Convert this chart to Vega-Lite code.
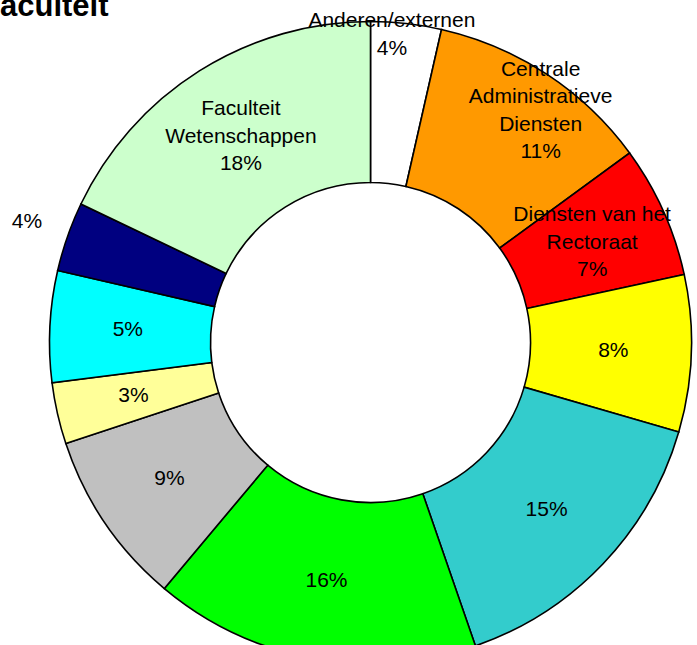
{
  "$schema": "https://vega.github.io/schema/vega-lite/v6.json",
  "width": 653,
  "height": 605,
  "autosize": {"type": "none"},
  "padding": {"left": 44, "top": 40, "right": 0, "bottom": 0},
  "background": "white",
  "view": {"stroke": null},
  "title": {
    "text": "aculteit",
    "anchor": "start",
    "frame": "group",
    "orient": "top",
    "font": "Liberation Sans",
    "fontSize": 31,
    "fontWeight": "bold",
    "color": "black",
    "baseline": "alphabetic",
    "offset": -37,
    "dx": -44
  },
  "data": {
    "values": [
      {"idx": 1, "afdeling": "Anderen/externen", "aandeel": 3.55, "label": ["Anderen/externen", "4%"]},
      {"idx": 2, "afdeling": "Centrale Administratieve Diensten", "aandeel": 11.4, "label": ["Centrale", "Administratieve", "Diensten", "11%"]},
      {"idx": 3, "afdeling": "Diensten van het Rectoraat", "aandeel": 6.65, "label": ["Diensten van het", "Rectoraat", "7%"]},
      {"idx": 4, "afdeling": "", "aandeel": 7.9, "label": "8%"},
      {"idx": 5, "afdeling": "", "aandeel": 15.2, "label": "15%"},
      {"idx": 6, "afdeling": "", "aandeel": 16.4, "label": "16%"},
      {"idx": 7, "afdeling": "", "aandeel": 8.8, "label": "9%"},
      {"idx": 8, "afdeling": "", "aandeel": 3.1, "label": "3%"},
      {"idx": 9, "afdeling": "", "aandeel": 5.6, "label": "5%"},
      {"idx": 10, "afdeling": "", "aandeel": 3.5, "label": "4%"},
      {"idx": 11, "afdeling": "Faculteit Wetenschappen", "aandeel": 17.9, "label": ["Faculteit", "Wetenschappen", "18%"]}
    ]
  },
  "transform": [
    {"stack": "aandeel", "groupby": [], "sort": [{"field": "idx", "order": "ascending"}], "as": ["t0", "t1"]},
    {"calculate": "(datum.t0 + datum.t1) / 2", "as": "tm"}
  ],
  "layer": [
    {
      "mark": {"type": "arc", "outerRadius": 321, "innerRadius": 160, "stroke": "black", "strokeWidth": 1.6},
      "encoding": {
        "theta": {"field": "t0", "type": "quantitative", "scale": {"domain": [0, 100]}},
        "theta2": {"field": "t1"},
        "color": {
          "field": "idx",
          "type": "nominal",
          "scale": {
            "domain": [1, 2, 3, 4, 5, 6, 7, 8, 9, 10, 11],
            "range": ["#FFFFFF", "#FF9900", "#FF0000", "#FFFF00", "#33CCCC", "#00FF00", "#C0C0C0", "#FFFF99", "#00FFFF", "#000080", "#CCFFCC"]
          },
          "legend": null
        }
      }
    },
    {
      "transform": [{"filter": "datum.idx >= 4 && datum.idx <= 9"}],
      "mark": {"type": "text", "radius": 243, "font": "Liberation Sans", "fontSize": 21, "lineHeight": 27.5, "baseline": "middle", "align": "center", "color": "black"},
      "encoding": {
        "theta": {"field": "tm", "type": "quantitative", "scale": {"domain": [0, 100]}},
        "text": {"field": "label"}
      }
    },
    {
      "transform": [{"filter": "datum.idx == 3 || datum.idx == 11"}],
      "mark": {"type": "text", "radius": 243, "dy": -27.5, "font": "Liberation Sans", "fontSize": 21, "lineHeight": 27.5, "baseline": "middle", "align": "center", "color": "black"},
      "encoding": {
        "theta": {"field": "tm", "type": "quantitative", "scale": {"domain": [0, 100]}},
        "text": {"field": "label"}
      }
    },
    {
      "transform": [{"filter": "datum.idx == 2"}],
      "mark": {"type": "text", "radius": 288, "dx": 12, "dy": -32, "font": "Liberation Sans", "fontSize": 21, "lineHeight": 27.5, "baseline": "middle", "align": "center", "color": "black"},
      "encoding": {
        "theta": {"field": "tm", "type": "quantitative", "scale": {"domain": [0, 100]}},
        "text": {"field": "label"}
      }
    },
    {
      "transform": [{"filter": "datum.idx == 1"}],
      "mark": {"type": "text", "radius": 309, "dx": -13, "dy": -14, "font": "Liberation Sans", "fontSize": 21, "lineHeight": 27.5, "baseline": "middle", "align": "center", "color": "black"},
      "encoding": {
        "theta": {"field": "tm", "type": "quantitative", "scale": {"domain": [0, 100]}},
        "text": {"field": "label"}
      }
    },
    {
      "transform": [{"filter": "datum.idx == 10"}],
      "mark": {"type": "text", "radius": 364, "font": "Liberation Sans", "fontSize": 21, "lineHeight": 27.5, "baseline": "middle", "align": "center", "color": "black"},
      "encoding": {
        "theta": {"field": "tm", "type": "quantitative", "scale": {"domain": [0, 100]}},
        "text": {"field": "label"}
      }
    }
  ]
}
